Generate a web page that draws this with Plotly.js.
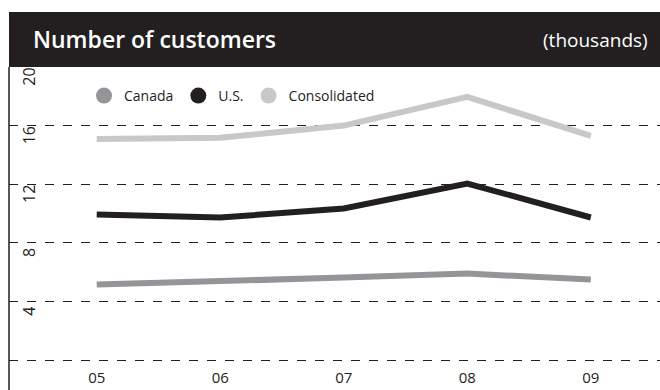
<!DOCTYPE html>
<html>
<head>
<meta charset="utf-8">
<script src="https://cdn.plot.ly/plotly-3.0.1.min.js"></script>
<style>html,body{margin:0;padding:0;background:#fff}#chart{width:660px;height:390px}</style>
</head>
<body>
<div id="chart"></div>
<script>
var years = ['05', '06', '07', '08', '09'];
var canada = [5.15, 5.44, 5.63, 5.9, 5.49];
var us = [9.93, 9.73, 10.34, 12.05, 9.73];
var consolidated = [15.08, 15.17, 16.0, 17.96, 15.3];
var seriesNames = ['Canada', 'U.S.', 'Consolidated'];
var yTickVals = [0, 4, 8, 12, 16, 20];
var yTickText = ['', '4', '8', '12', '16', '20'];

var colors = ['#939598', '#231f20', '#c7c8ca'];
var FONT = 'Open Sans, Noto Sans, sans-serif';
var seriesData = [canada, us, consolidated];

var traces = [];
for (var i = 0; i < 3; i++) {
  traces.push({
    x: years, y: seriesData[i], type: 'scatter', mode: 'lines',
    line: {color: colors[i], width: 6}, showlegend: false, hoverinfo: 'skip'
  });
}
for (var j = 0; j < 3; j++) {
  traces.push({
    x: [null], y: [null], type: 'scatter', mode: 'markers', name: seriesNames[j],
    marker: {color: colors[j], size: 16, symbol: 'circle'}, showlegend: true
  });
}

var marginB = 27;
var plotH = 390 - 67 - marginB;
var layout = {
  width: 660, height: 390,
  margin: {l: 9, r: 0, t: 67, b: marginB, pad: 0},
  paper_bgcolor: '#ffffff', plot_bgcolor: '#ffffff',
  font: {family: FONT, color: '#231f20'},
  title: {
    text: 'Number of customers',
    font: {family: FONT, size: 23, weight: 600, color: '#ffffff'},
    x: 33 / 660, xanchor: 'left', xref: 'container',
    y: 1 - 40 / 390, yanchor: 'middle', yref: 'container'
  },
  xaxis: {
    type: 'category', range: [-0.71, 4.56],
    showgrid: false, showline: false, zeroline: false, ticks: '',
    tickfont: {family: FONT, size: 15, color: '#231f20'},
    ticklabelstandoff: 4
  },
  yaxis: {
    range: [-0.2, 20], tickvals: yTickVals, ticktext: yTickText,
    showgrid: true, griddash: 'dash', gridcolor: '#231f20', gridwidth: 1,
    zeroline: false, showline: false, ticks: '',
    tickangle: -90, ticklabelposition: 'inside', ticklabelshift: 12,
    ticklabelstandoff: 4,
    tickfont: {family: FONT, size: 16, color: '#231f20'}
  },
  legend: {
    orientation: 'h', x: (84 - 9) / 651, xanchor: 'left',
    y: 1 - (96 - 67) / plotH, yanchor: 'middle',
    bgcolor: 'rgba(0,0,0,0)', font: {family: FONT, size: 14, color: '#231f20'},
    itemclick: false
  },
  shapes: [
    {type: 'rect', xref: 'paper', yref: 'paper', x0: 0, x1: 1, y0: 1, y1: 1 + 55 / plotH,
     fillcolor: '#231f20', line: {width: 0}, layer: 'above'},
    {type: 'line', xref: 'paper', yref: 'paper', x0: 0, x1: 0, y0: -marginB / plotH, y1: 1,
     line: {color: '#231f20', width: 1.5}}
  ],
  annotations: [
    {text: '(thousands)', xref: 'paper', yref: 'paper', x: 1, xanchor: 'right', xshift: -10,
     y: 1 + 27 / plotH, yanchor: 'middle', showarrow: false,
     font: {family: FONT, size: 19, color: '#ffffff'}}
  ]
};

Plotly.newPlot('chart', traces, layout, {staticPlot: true, displayModeBar: false});
</script>
</body>
</html>
